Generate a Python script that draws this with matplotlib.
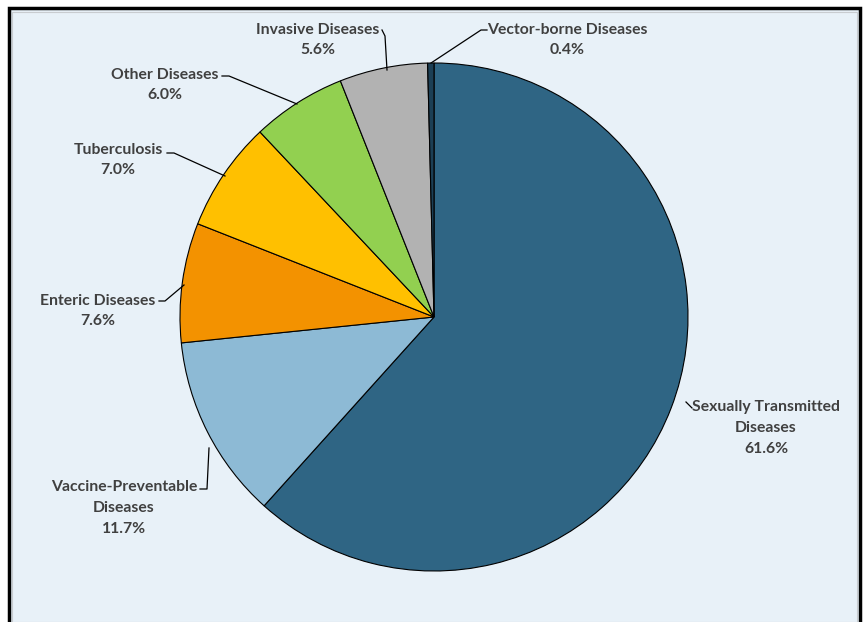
import matplotlib.pyplot as plt
from matplotlib.patches import Rectangle

categories = ["Sexually Transmitted\nDiseases", "Vaccine-Preventable\nDiseases", "Enteric Diseases",
              "Tuberculosis", "Other Diseases", "Invasive Diseases", "Vector-borne Diseases"]
shares = [61.6, 11.7, 7.6, 7.0, 6.0, 5.6, 0.4]
colors = ["#2F6584", "#8DBAD5", "#F39200", "#FFC000", "#92D050", "#B2B2B2", "#1C3F55"]

W, H = 865, 622
fig = plt.figure(figsize=(W / 100, H / 100), dpi=100)
fig.patch.set_facecolor("white")
ax = fig.add_axes([0, 0, 1, 1])

# frame
ax.add_patch(Rectangle((9, -5), 851, H - 8 + 5, facecolor="#E8F1F8", edgecolor="black", lw=2.5, zorder=0))
ax.add_patch(Rectangle((12, 0), 845, H - 12, facecolor="none", edgecolor="#C8CCD0", lw=0.8, zorder=0))

def fy(y):
    return H - y

cx, cy, r = 434, fy(317), 254
ax.pie(shares, colors=colors, startangle=90, counterclock=False, center=(cx, cy), radius=r,
       wedgeprops=dict(edgecolor="black", linewidth=0.8), frame=True)
ax.set_xlim(0, W)
ax.set_ylim(0, H)
ax.set_aspect("equal")
ax.axis("off")

# label text position, leader line points (pixel coords, y downward)
layout = [
    ((766, 428), [(692, 408), (686, 402)]),
    ((124, 508), [(200, 489), (207, 489), (209, 448)]),
    ((98, 311), [(159, 301), (165, 301), (184, 285)]),
    ((118, 160), [(167, 153), (174, 153), (225, 176)]),
    ((165, 85), [(222, 76), (229, 76), (297, 104)]),
    ((318, 40), [(382, 30), (385, 36), (387, 70)]),
    ((567, 40), [(487, 30), (481, 30), (431, 63)]),
]
for cat, val, (tpos, pts) in zip(categories, shares, layout):
    ax.text(tpos[0], fy(tpos[1]), f"{cat}\n{val:.1f}%", ha="center", va="center",
            fontsize=11.3, fontweight="bold", color="#404040", family="Lato", linespacing=1.6)
    ax.plot([p[0] for p in pts], [fy(p[1]) for p in pts], color="black", lw=0.9)

fig.savefig("out.png", dpi=100)
